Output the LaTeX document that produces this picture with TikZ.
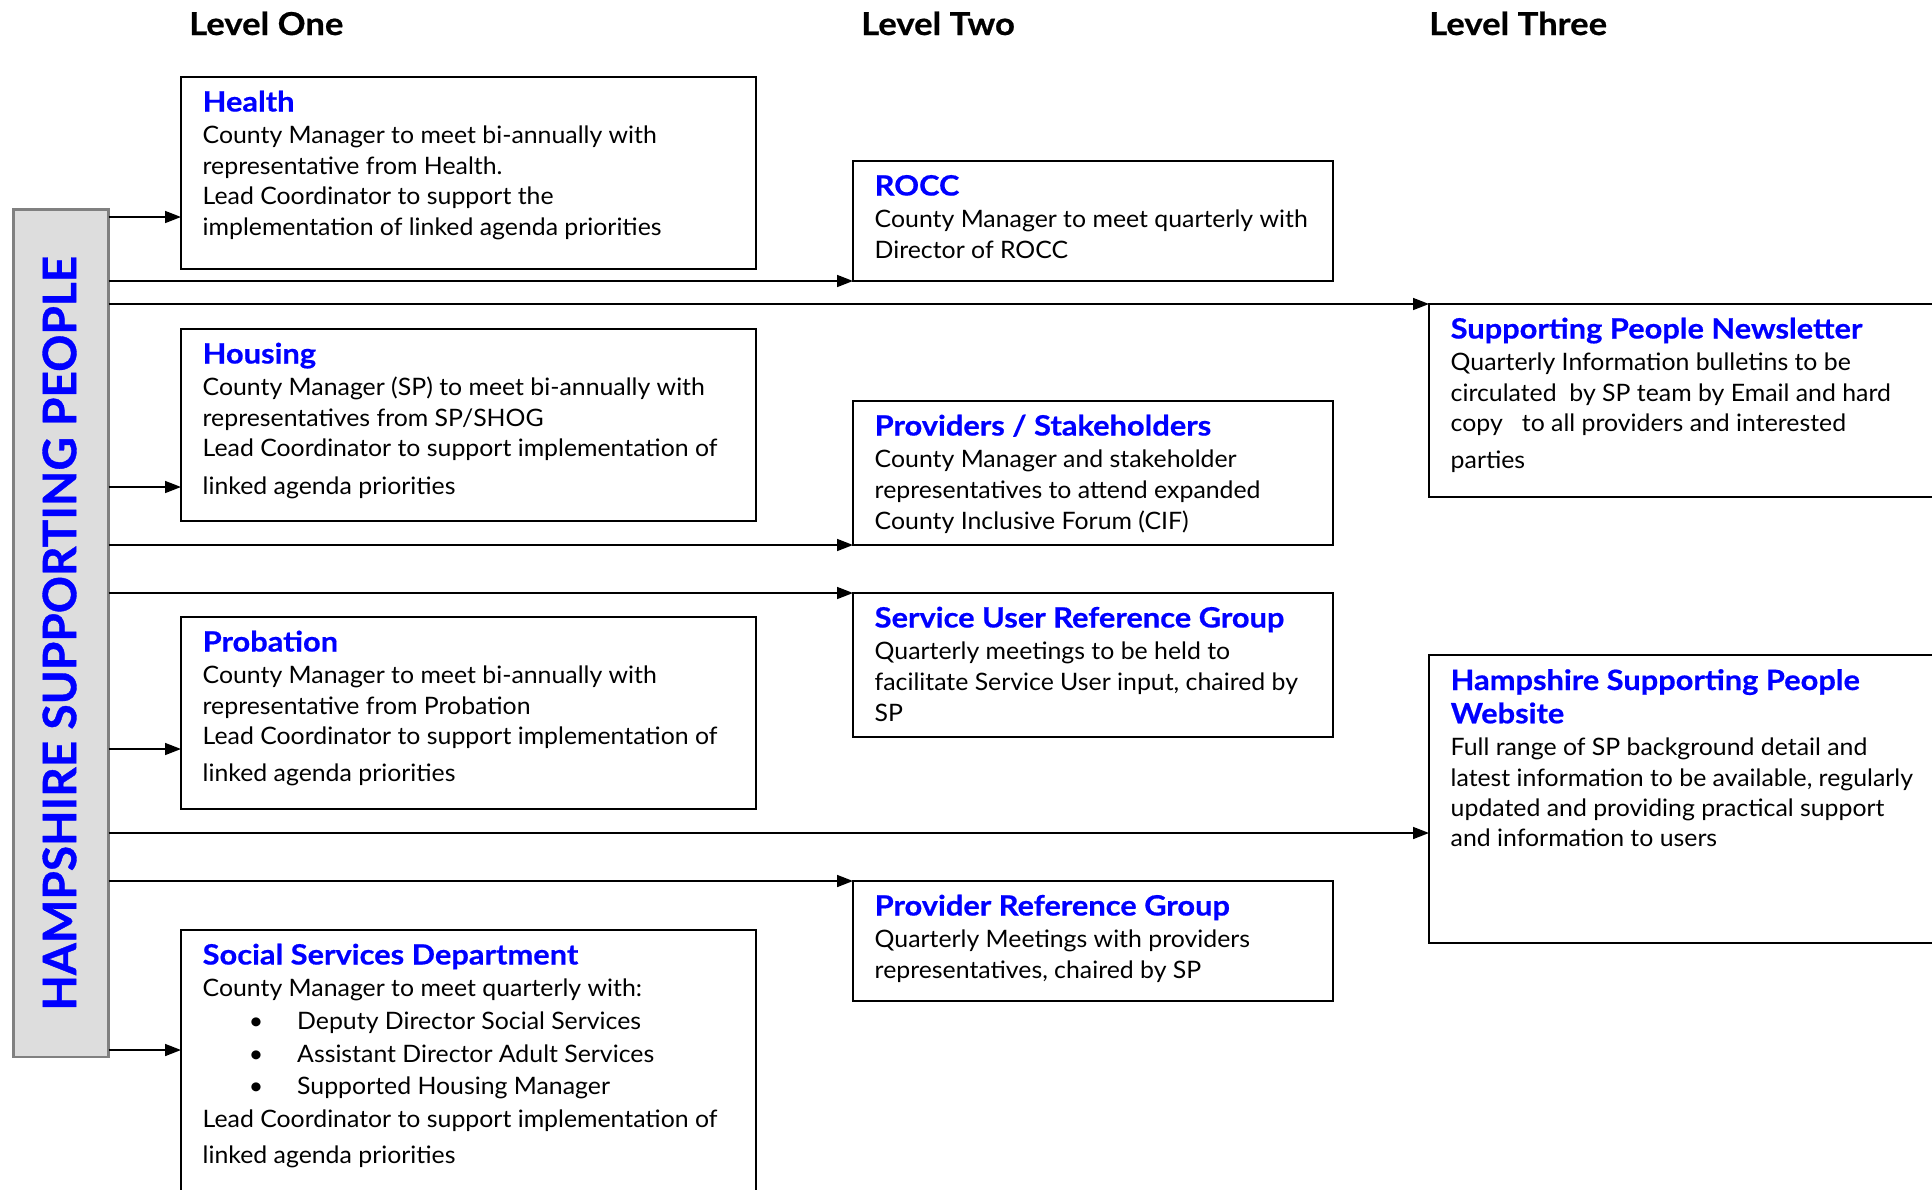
\documentclass[tikz,border=0pt]{standalone}
\usepackage{fontspec}
\setmainfont{Lato}
\newfontfamily\bodyfam{Lato}[FakeStretch=1.035]
\newfontfamily\ttlfam{Lato}[FakeStretch=1.1, BoldFeatures={FakeBold=0.6}]
\newfontfamily\barfam{Lato}[FakeStretch=1.0, BoldFeatures={FakeBold=0.8}]
\usetikzlibrary{arrows.meta}
\definecolor{ttl}{RGB}{0,0,255}
\definecolor{barfill}{RGB}{221,221,221}
\definecolor{barline}{RGB}{128,128,128}
\newcommand\bodyfnt{\bodyfam\fontsize{24}{28}\selectfont}
\newcommand\ttlfnt{\ttlfam\fontsize{28}{30}\selectfont\bfseries}
\tikzset{
  boxshape/.style={draw=black, line width=2pt, inner sep=0pt, outer sep=0pt, anchor=north west},
  ttlln/.style={anchor=base west, inner sep=0pt, font=\ttlfnt, text=ttl},
  bodyln/.style={anchor=base west, inner sep=0pt, font=\bodyfnt, text=black},
  lvl/.style={anchor=base west, inner sep=0pt, font=\ttlfam\fontsize{31.5}{36}\selectfont\bfseries},
  arr/.style={draw=black, line width=1.6pt, -{Triangle[length=16pt,width=12pt]}}
}
\begin{document}
\begin{tikzpicture}[x=1pt,y=-1pt]
\useasboundingbox (0,0) rectangle (1932,1189);
\clip (0,0) rectangle (1932,1189);
\fill[white] (0,0) rectangle (1932,1189);

% level headings
\node[lvl] (lvl1) at (189,35) {Level One};
\node[lvl] (lvl2) at (861,35) {Level Two};
\node[lvl] (lvl3) at (1429,35) {Level Three};

% side bar
\node[boxshape, draw=barline, fill=barfill, line width=2.5pt, minimum width=95pt, minimum height=847.5pt] (bar) at (13.5,209.5) {};
\node[rotate=90, inner sep=0pt, text=ttl, font=\barfam\fontsize{46}{50}\selectfont\bfseries] (bartext) at ([xshift=-1.5pt]bar.center) {HAMPSHIRE SUPPORTING PEOPLE};

% level one boxes
\node[boxshape, minimum width=575pt, minimum height=192pt] (health) at (181,77) {};
\node[boxshape, minimum width=575pt, minimum height=192pt] (housing) at (181,329) {};
\node[boxshape, minimum width=575pt, minimum height=192pt] (probation) at (181,617) {};
\node[boxshape, minimum width=575pt, minimum height=280pt] (social) at (181,930) {};
% level two boxes
\node[boxshape, minimum width=480pt, minimum height=120pt] (rocc) at (853,161) {};
\node[boxshape, minimum width=480pt, minimum height=144pt] (prov) at (853,401) {};
\node[boxshape, minimum width=480pt, minimum height=144pt] (sur) at (853,593) {};
\node[boxshape, minimum width=480pt, minimum height=120pt] (prg) at (853,881) {};
% level three boxes
\node[boxshape, minimum width=520pt, minimum height=193pt] (news) at (1429,304) {};
\node[boxshape, minimum width=520pt, minimum height=288pt] (web) at (1429,655) {};

% texts
\node[ttlln] (health-t) at ([shift={(21.5,34.5)}]health.north west) {Health};
\foreach \dy/\t [count=\i] in {66.5/{County Manager to meet bi-annually with}, 97/{representative from Health.}, 127.5/{Lead Coordinator to support the}, 158/{implementation of linked agenda priorities}}
  \node[bodyln] (health-\i) at ([shift={(21.5,\dy)}]health.north west) {\t};

\node[ttlln] (housing-t) at ([shift={(21.5,34.5)}]housing.north west) {Housing};
\foreach \dy/\t [count=\i] in {66.5/{County Manager (SP) to meet bi-annually with}, 97/{representatives from SP/SHOG}, 127.5/{Lead Coordinator to support implementation of}, 165.5/{linked agenda priorities}}
  \node[bodyln] (housing-\i) at ([shift={(21.5,\dy)}]housing.north west) {\t};

\node[ttlln] (probation-t) at ([shift={(21.5,34.5)}]probation.north west) {Probation};
\foreach \dy/\t [count=\i] in {66.5/{County Manager to meet bi-annually with}, 97/{representative from Probation}, 127.5/{Lead Coordinator to support implementation of}, 164/{linked agenda priorities}}
  \node[bodyln] (probation-\i) at ([shift={(21.5,\dy)}]probation.north west) {\t};

\node[ttlln] (social-t) at ([shift={(21.5,34.5)}]social.north west) {Social Services Department};
\node[bodyln] (social-1) at ([shift={(21.5,66.5)}]social.north west) {County Manager to meet quarterly with:};
\foreach \dy/\t [count=\i] in {99/{Deputy Director Social Services}, 132/{Assistant Director Adult Services}, 164.5/{Supported Housing Manager}}{
  \node[bodyln, anchor=base] (social-b\i) at ([shift={(75,\dy)}]social.north west) {•};
  \node[bodyln] (social-i\i) at ([shift={(116,\dy)}]social.north west) {\t};
}
\node[bodyln] (social-2) at ([shift={(21.5,197)}]social.north west) {Lead Coordinator to support implementation of};
\node[bodyln] (social-3) at ([shift={(21.5,233.5)}]social.north west) {linked agenda priorities};

\node[ttlln] (rocc-t) at ([shift={(21.5,34.5)}]rocc.north west) {ROCC};
\foreach \dy/\t [count=\i] in {66.5/{County Manager to meet quarterly with}, 97/{Director of ROCC}}
  \node[bodyln] (rocc-\i) at ([shift={(21.5,\dy)}]rocc.north west) {\t};

\node[ttlln] (prov-t) at ([shift={(21.5,34.5)}]prov.north west) {Providers / Stakeholders};
\foreach \dy/\t [count=\i] in {66.5/{County Manager and stakeholder}, 97/{representatives to attend expanded}, 128/{County Inclusive Forum (CIF)}}
  \node[bodyln] (prov-\i) at ([shift={(21.5,\dy)}]prov.north west) {\t};

\node[ttlln] (sur-t) at ([shift={(21.5,34.5)}]sur.north west) {Service User Reference Group};
\foreach \dy/\t [count=\i] in {66.5/{Quarterly meetings to be held to}, 97/{facilitate Service User input, chaired by}, 128/{SP}}
  \node[bodyln] (sur-\i) at ([shift={(21.5,\dy)}]sur.north west) {\t};

\node[ttlln] (prg-t) at ([shift={(21.5,34.5)}]prg.north west) {Provider Reference Group};
\foreach \dy/\t [count=\i] in {66.5/{Quarterly Meetings with providers}, 97/{representatives, chaired by SP}}
  \node[bodyln] (prg-\i) at ([shift={(21.5,\dy)}]prg.north west) {\t};

\node[ttlln] (news-t) at ([shift={(21.5,34.5)}]news.north west) {Supporting People Newsletter};
\foreach \dy/\t [count=\i] in {66.5/{Quarterly Information bulletins to be}, 97/{circulated\ \ by SP team by Email and hard}, 127.5/{copy\ \ \ to all providers and interested}, 164.5/{parties}}
  \node[bodyln] (news-\i) at ([shift={(21.5,\dy)}]news.north west) {\t};

\node[ttlln] (web-t1) at ([shift={(21.5,35)}]web.north west) {Hampshire Supporting People};
\node[ttlln] (web-t2) at ([shift={(21.5,68.3)}]web.north west) {Website};
\foreach \dy/\t [count=\i] in {100/{Full range of SP background detail and}, 131/{latest information to be available, regularly}, 161.5/{updated and providing practical support}, 191.7/{and information to users}}
  \node[bodyln] (web-\i) at ([shift={(21.5,\dy)}]web.north west) {\t};

% connector heights
\coordinate (yh) at (0,217);
\coordinate (yho) at (0,487);
\coordinate (yp) at (0,749);
\coordinate (yw) at (0,833);
\coordinate (ys) at (0,1050);

\draw[arr] (bar.east |- yh) -- (health.west |- yh);
\draw[arr] (bar.east |- rocc.south west) -- (rocc.south west);
\draw[arr] (bar.east |- news.north west) -- (news.north west);
\draw[arr] (bar.east |- yho) -- (housing.west |- yho);
\draw[arr] (bar.east |- prov.south west) -- (prov.south west);
\draw[arr] (bar.east |- sur.north west) -- (sur.north west);
\draw[arr] (bar.east |- yp) -- (probation.west |- yp);
\draw[arr] (bar.east |- yw) -- (web.west |- yw);
\draw[arr] (bar.east |- prg.north west) -- (prg.north west);
\draw[arr] (bar.east |- ys) -- (social.west |- ys);
\end{tikzpicture}
\end{document}
